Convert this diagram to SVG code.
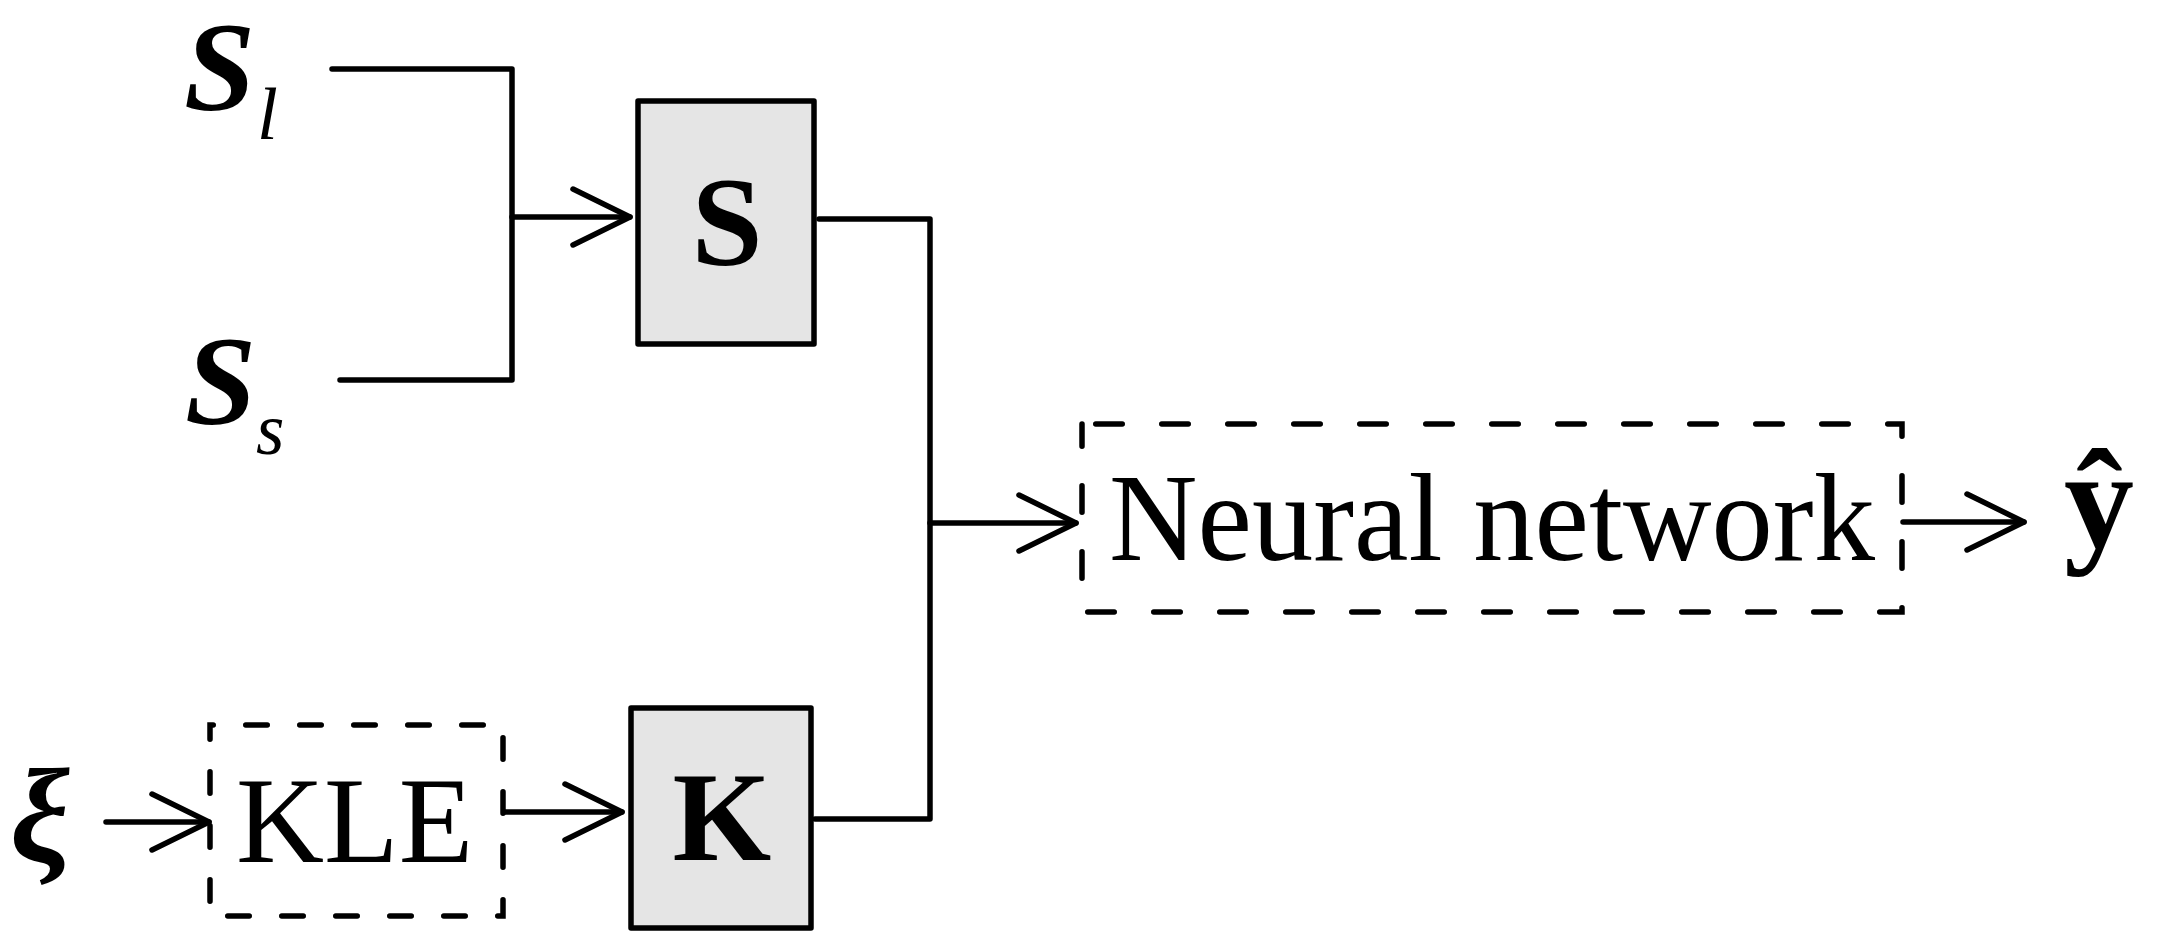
<svg xmlns="http://www.w3.org/2000/svg" width="2160" height="934" viewBox="0 0 2160 934">
<style>
.ln{fill:none;stroke:#000;stroke-width:5.5;stroke-linecap:round;stroke-linejoin:round}
.box{fill:#e5e5e5;stroke:#000;stroke-width:5.5;stroke-linejoin:round}
.dash1{fill:none;stroke:#000;stroke-width:5.5;stroke-linecap:round;stroke-dasharray:21.5 32.5;stroke-dashoffset:18.25}
.dash2{fill:none;stroke:#000;stroke-width:5.5;stroke-linecap:round;stroke-dasharray:26.5 39.5;stroke-dashoffset:52.25}
.t{font-family:"Liberation Serif","Times New Roman",serif;fill:#000}
</style>
<defs>
<marker id="arr" markerUnits="userSpaceOnUse" markerWidth="70" markerHeight="70" viewBox="-62 -35 70 70" refX="0" refY="0" orient="auto" overflow="visible">
<path d="M-57,-28 L0,0 L-57,28" fill="none" stroke="#000" stroke-width="5.5" stroke-linecap="round" stroke-linejoin="round"/>
</marker>
</defs>
<rect width="2160" height="934" fill="#fff"/>
<g id="connectors">
<path class="ln" d="M332,69 H512 V380 H340"/>
<path class="ln" d="M512,217 H630" marker-end="url(#arr)"/>
<path class="ln" d="M819,219 H930 V819 H815"/>
<path class="ln" d="M930,523 H1076" marker-end="url(#arr)"/>
<path class="ln" d="M1903,522 H2024" marker-end="url(#arr)"/>
<path class="ln" d="M106,822 H209" marker-end="url(#arr)"/>
<path class="ln" d="M504,812 H622" marker-end="url(#arr)"/>
</g>
<g id="input-sl">
<text class="t" x="184" y="110" font-size="128" font-weight="bold" font-style="italic">S</text>
<text class="t" x="257" y="139" font-size="75" font-style="italic">l</text>
</g>
<g id="input-ss">
<text class="t" x="185" y="424" font-size="128" font-weight="bold" font-style="italic">S</text>
<text class="t" x="256" y="454" font-size="73" font-style="italic">s</text>
</g>
<g id="node-S">
<rect class="box" x="638" y="101" width="176" height="243"/>
<text class="t" x="727" y="265" font-size="128" font-weight="bold" text-anchor="middle">S</text>
</g>
<g id="input-xi">
<text class="t" x="10" y="861" font-size="134" font-weight="bold" font-style="italic">ξ</text>
</g>
<g id="node-KLE">
<rect class="dash1" x="210" y="725" width="293" height="191"/>
<text class="t" x="236" y="862" font-size="122">KLE</text>
</g>
<g id="node-K">
<rect class="box" x="631" y="708" width="180" height="220"/>
<text class="t" x="722" y="860" font-size="127" font-weight="bold" text-anchor="middle">K</text>
</g>
<g id="node-NN">
<rect class="dash2" x="1082" y="424" width="820" height="188"/>
<text class="t" x="1109" y="560" font-size="124" textLength="766" lengthAdjust="spacingAndGlyphs">Neural network</text>
</g>
<g id="output-y">
<text class="t" x="2099" y="547" font-size="140" font-weight="bold" text-anchor="middle">ŷ</text>
</g>
</svg>
